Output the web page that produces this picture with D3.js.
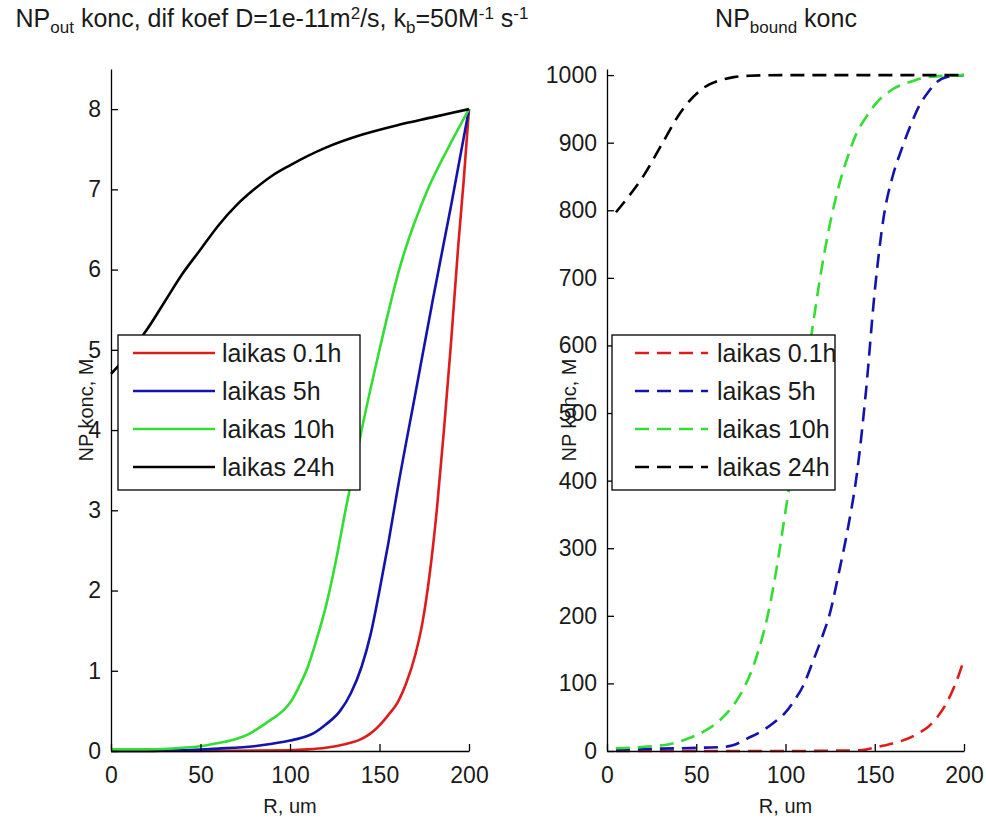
<!DOCTYPE html>
<html>
<head>
<meta charset="utf-8">
<script src="https://cdn.jsdelivr.net/npm/d3@7"></script>
<style>
body{margin:0;background:#fff;}
text{font-family:"Liberation Sans",Arial,sans-serif;fill:#1a1a1a;}
</style>
</head>
<body>
<div id="canvas"></div>
<script>
// ticks
var xTicks = [0, 50, 100, 150, 200];
var outTicks = [0, 1, 2, 3, 4, 5, 6, 7, 8];
var boundTicks = [0, 100, 200, 300, 400, 500, 600, 700, 800, 900, 1000];
var labels = ['laikas 0.1h', 'laikas 5h', 'laikas 10h', 'laikas 24h'];
var colors = ['#dd1c1c', '#1414aa', '#33dd33', '#000000'];

// NP out konc (left)
var outR01 = [0,50,100,110,120,130,140,145,150,155,160,165,170,174,178,182,186,190,194,197,200];
var outC01 = [0,0,0.01,0.02,0.04,0.08,0.15,0.22,0.32,0.45,0.6,0.85,1.2,1.6,2.2,3.0,4.0,5.1,6.3,7.1,8.0];
var outR5 = [0,20,40,60,80,90,100,110,113,120,128,134,140,145,150,155,160,170,180,190,200];
var outC5 = [0,0,0.01,0.03,0.06,0.09,0.13,0.19,0.22,0.33,0.5,0.72,1.05,1.45,2.0,2.6,3.25,4.45,5.65,6.8,8.0];
var outR10 = [0,20,40,50,60,70,76,80,90,96,100,105,110,115,120,125,131,140,150,161,177,188,200];
var outC10 = [0.02,0.02,0.04,0.06,0.1,0.15,0.2,0.25,0.4,0.5,0.6,0.8,1.05,1.4,1.8,2.3,3.0,4.0,5.0,6.0,7.0,7.5,8.0];
var outR24 = [0,10,20,30,40,50,60,70,80,90,100,120,140,160,180,200];
var outC24 = [4.7,4.95,5.25,5.6,5.95,6.25,6.55,6.8,7.0,7.17,7.3,7.52,7.68,7.8,7.9,8.0];

// NP bound konc (right)
var bndR01 = [5,50,100,140,145,150,155,160,165,170,175,180,185,190,195,200];
var bndC01 = [0,0,0,1,2,5,8,11,15,20,27,36,50,70,98,135];
var bndR5 = [5,20,40,55,65,70,79,87,95,100,105,110,115,120,125,130,135,140,145,150,155,160,165,170,175,180,185,190,200];
var bndC5 = [2,3,4,5,6,8,19,30,45,57,75,97,130,165,205,265,330,410,530,680,790,850,890,925,955,975,990,997,1000];
var bndR10 = [5,15,25,35,45,55,65,75,80,85,90,95,100,105,110,115,120,125,130,135,140,145,150,160,170,180,200];
var bndC10 = [4,5,7,10,18,30,50,85,112,150,200,270,355,440,533,624,710,781,837,880,915,937,956,979,990,997,1000];
var bndR24 = [5,12,20,31,41,54,63,71,80,100,150,200];
var bndC24 = [797,820,849,899,944,981,992,997,999,1000,1000,1000];

function zip(r, c){ return r.map(function(d,i){ return [d, c[i]]; }); }

var svg = d3.select('#canvas').append('svg')
    .attr('width', 986).attr('height', 819);

var panels = [
  {x0:111, x1:469, yTop:69, yBot:751, ymax:8.5, yt:outTicks, dash:null,
   series:[zip(outR01,outC01), zip(outR5,outC5), zip(outR10,outC10), zip(outR24,outC24)],
   title:[['NP'],['out','sub'],[' konc, dif koef D=1e-11m'],['2','sup'],['/s, k'],['b','sub'],['=50M'],['-1','sup'],[' s'],['-1','sup']],
   titleX:272, ylabX:86, leg:{x:118, y:335, w:242, h:155, lx0:133, lx1:215, tx:222}},
  {x0:607, x1:964, yTop:69, yBot:751, ymax:1009, yt:boundTicks, dash:'14,8',
   series:[zip(bndR01,bndC01), zip(bndR5,bndC5), zip(bndR10,bndC10), zip(bndR24,bndC24)],
   title:[['NP'],['bound','sub'],[' konc']],
   titleX:786, ylabX:569, leg:{x:612, y:335, w:223, h:155, lx0:635, lx1:708, tx:717}}
];

panels.forEach(function(p){
  var x = d3.scaleLinear().domain([0,200]).range([p.x0, p.x1]);
  var y = d3.scaleLinear().domain([0,p.ymax]).range([p.yBot, p.yTop]);
  var g = svg.append('g');

  // curves
  var line = d3.line().x(function(d){ return x(d[0]); }).y(function(d){ return y(d[1]); })
      .curve(d3.curveMonotoneX);
  p.series.forEach(function(s, i){
    g.append('path').attr('d', line(s))
      .attr('fill','none').attr('stroke', colors[i]).attr('stroke-width', 2.6)
      .attr('stroke-dasharray', p.dash);
  });

  // axes
  var xa = g.append('g').attr('transform','translate(0,'+p.yBot+')')
      .call(d3.axisBottom(x).tickValues(xTicks).tickSizeInner(-7).tickSizeOuter(0).tickPadding(16));
  var ya = g.append('g').attr('transform','translate('+p.x0+',0)')
      .call(d3.axisLeft(y).tickValues(p.yt).tickFormat(d3.format('d'))
        .tickSizeInner(-7).tickSizeOuter(0).tickPadding(10));
  [xa, ya].forEach(function(a){
    a.attr('font-size', 23);
    a.selectAll('.domain, line').attr('stroke','#000').attr('stroke-width',1.3);
  });

  // labels
  g.append('text').attr('x', (p.x0+p.x1)/2).attr('y', 813)
    .attr('text-anchor','middle').attr('font-size',20).text('R, um');
  g.append('text').attr('transform','translate('+p.ylabX+','+((p.yTop+p.yBot)/2)+') rotate(-90)')
    .attr('text-anchor','middle').attr('dy','0.35em').attr('font-size',20).text('NP konc, M');

  // title
  var t = g.append('text').attr('x', p.titleX).attr('y', 27)
    .attr('text-anchor','middle').attr('font-size',25);
  var shift = 0;
  p.title.forEach(function(part){
    var target = part[1]==='sub' ? 6 : part[1]==='sup' ? -8 : 0;
    t.append('tspan').attr('dy', target - shift)
      .attr('font-size', part[1] ? 17 : 25).text(part[0]);
    shift = target;
  });

  // legend
  var L = p.leg;
  var lg = g.append('g');
  lg.append('rect').attr('x',L.x).attr('y',L.y).attr('width',L.w).attr('height',L.h)
    .attr('fill','#fff').attr('stroke','#000').attr('stroke-width',1.3);
  labels.forEach(function(lab, i){
    var cy = L.y + 18 + i*38;
    lg.append('line').attr('x1',L.lx0).attr('x2',L.lx1).attr('y1',cy).attr('y2',cy)
      .attr('stroke',colors[i]).attr('stroke-width',2.6).attr('stroke-dasharray',p.dash);
    lg.append('text').attr('x',L.tx).attr('y',cy).attr('dy','0.36em')
      .attr('font-size',25).text(lab);
  });
});
</script>
</body>
</html>
